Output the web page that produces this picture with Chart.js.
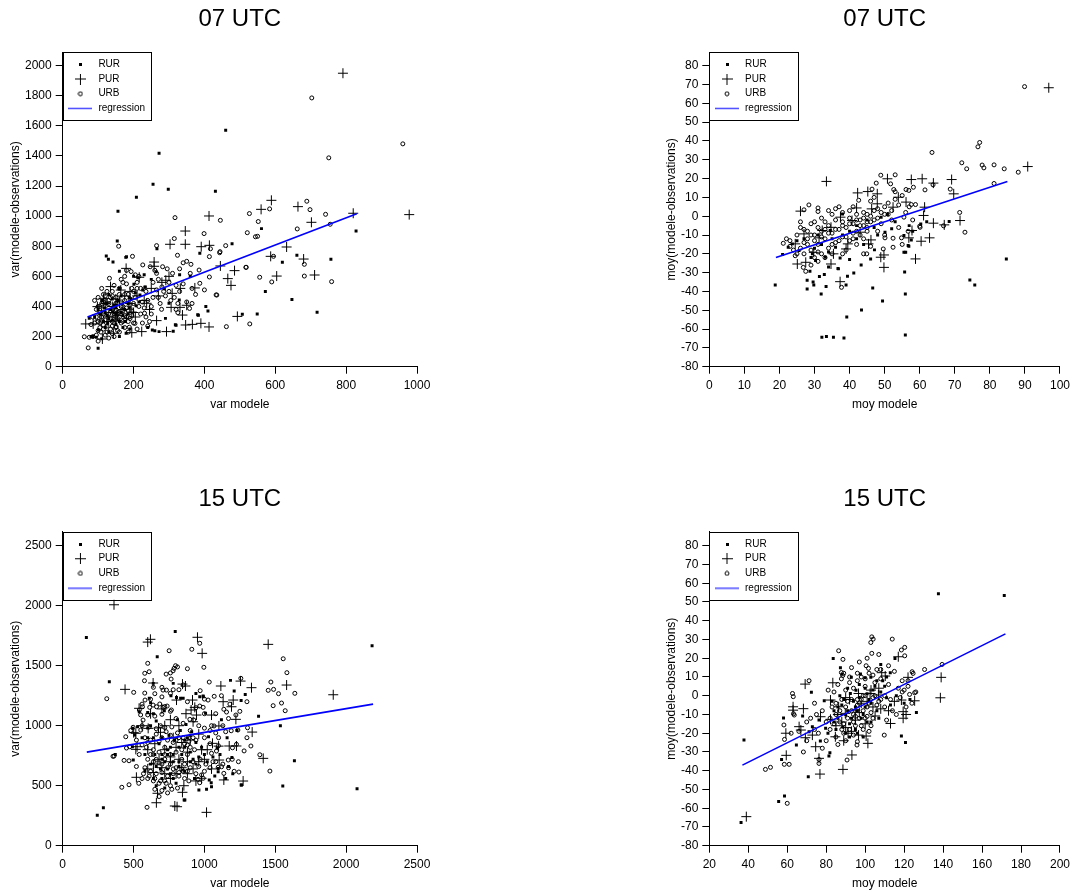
<!DOCTYPE html>
<html><head><meta charset="utf-8">
<script src="https://cdn.jsdelivr.net/npm/chart.js@4.4.1/dist/chart.umd.min.js"></script>
<style>
html,body{margin:0;padding:0;background:#fff;overflow:hidden;width:1075px;height:890px;}
canvas{position:absolute;}
</style></head><body>
<canvas id="c1" width="429" height="412" style="left:8px;top:0px"></canvas>
<canvas id="c2" width="411" height="412" style="left:664px;top:0px"></canvas>
<canvas id="c3" width="429" height="411" style="left:8px;top:480px"></canvas>
<canvas id="c4" width="411" height="411" style="left:664px;top:480px"></canvas>
<script>
// ---------- DATA ----------
const seriesNames = ['RUR','PUR','URB','regression'];
const titles = ['07 UTC','07 UTC','15 UTC','15 UTC'];
const xTitles = ['var modele','moy modele','var modele','moy modele'];
const yTitles = ['var(modele-observations)','moy(modele-observations)','var(modele-observations)','moy(modele-observations)'];

const xTicks1 = [0,200,400,600,800,1000];
const yTicks1 = [0,200,400,600,800,1000,1200,1400,1600,1800,2000];
const xTicks2 = [0,10,20,30,40,50,60,70,80,90,100];
const yTicks2 = [-80,-70,-60,-50,-40,-30,-20,-10,0,10,20,30,40,50,60,70,80];
const xTicks3 = [0,500,1000,1500,2000,2500];
const yTicks3 = [0,500,1000,1500,2000,2500];
const xTicks4 = [20,40,60,80,100,120,140,160,180,200];
const yTicks4 = [-80,-70,-60,-50,-40,-30,-20,-10,0,10,20,30,40,50,60,70,80];

// Panel 1 : var, 07 UTC
const rur1 = [[460,1570],[272,1418],[255,1211],[298,1178],[431,1165],[208,1125],[156,1032],[154,835],[478,817],[561,917],[828,901],[123,735],[129,713],[142,695],[178,726],[266,784],[387,753],[661,740],[757,713],[620,693],[572,500],[647,447],[718,361],[549,350],[507,348],[410,370],[404,400],[383,341],[290,321],[320,275],[312,235],[272,233],[253,244],[233,529],[180,730],[160,634],[232,527],[264,631],[188,459],[226,510],[207,405],[329,443],[318,279],[260,239],[381,345],[75,321],[127,288],[101,244],[85,200],[100,122],[160,200],[179,222],[118,390],[141,361],[151,410],[188,390],[193,450],[218,477],[212,591],[201,547],[287,518],[300,421],[80,200],[95,195],[110,185],[130,230],[140,310],[150,280],[160,300],[170,340],[115,300],[125,340],[135,380],[145,410],[155,440],[165,470],[175,380],[185,420],[205,490],[215,430],[105,350],[90,330],[125,420],[140,450],[160,520],[200,600],[230,610],[250,580],[330,610],[360,600],[110,440],[130,480],[150,350],[170,260],[190,250],[240,260],[120,260],[100,380],[120,360],[130,320],[150,390],[165,360],[175,300],[185,350]];
const pur1 = [[791,1949],[978,1010],[820,1019],[589,1105],[560,1045],[664,1063],[702,959],[413,1001],[346,901],[346,813],[303,813],[391,797],[414,806],[632,795],[587,733],[680,715],[604,602],[711,609],[485,638],[466,585],[475,540],[445,669],[493,334],[413,264],[390,288],[366,281],[347,277],[338,343],[293,233],[265,306],[223,233],[195,226],[180,321],[143,222],[112,184],[65,284],[86,284],[195,363],[154,339],[179,653],[216,594],[258,695],[258,667],[332,520],[309,487],[291,574],[373,523],[350,408],[331,394],[306,394],[237,421],[164,509],[135,532],[115,454],[98,399],[120,420],[140,400],[160,430],[175,470],[190,500],[210,470],[230,440],[250,520],[270,470],[280,560],[300,600],[125,300],[150,310],[205,330],[245,380],[145,360],[105,310],[110,350],[130,330],[150,450],[170,380],[190,420],[200,360]];
const urb1 = [[703,1785],[960,1480],[751,1387],[689,1099],[698,1043],[742,1012],[584,1048],[527,1017],[552,964],[445,972],[662,915],[521,890],[399,884],[317,990],[315,851],[265,804],[158,800],[197,733],[550,866],[755,946],[460,804],[444,764],[595,733],[682,680],[518,660],[556,594],[590,563],[682,602],[759,565],[462,266],[528,284],[435,476],[414,596],[387,554],[385,642],[75,195],[72,125],[85,200],[95,210],[80,280],[90,290],[85,330],[100,300],[105,260],[110,330],[95,380],[100,400],[110,420],[90,440],[100,460],[110,520],[115,480],[120,400],[125,370],[130,350],[120,310],[125,270],[135,250],[140,300],[145,340],[140,380],[150,420],[150,460],[145,540],[160,520],[165,580],[170,560],[132,587],[175,600],[180,550],[185,480],[175,440],[170,400],[160,360],[155,320],[165,290],[175,260],[185,230],[190,320],[195,370],[200,420],[205,460],[210,520],[193,632],[205,610],[215,600],[225,430],[230,390],[220,350],[235,330],[245,300],[240,270],[226,676],[247,664],[255,560],[265,620],[282,664],[260,640],[280,530],[285,500],[290,470],[275,420],[295,650],[300,560],[305,440],[315,460],[325,420],[320,380],[330,500],[324,740],[340,690],[350,700],[362,680],[360,620],[365,520],[400,510],[433,477],[330,650],[310,620],[130,420],[135,460],[140,500],[115,350],[105,360],[150,260],[160,230],[170,300],[180,330],[200,290],[210,250],[215,400],[250,400],[255,460],[265,510],[270,580],[235,500],[240,440],[185,370],[190,410],[195,520],[120,440],[125,500],[150,380],[165,430],[175,480],[180,640],[270,460],[300,500],[350,430],[365,420],[375,480],[414,731],[443,757],[417,783],[544,863],[517,660],[120,210],[130,190],[140,220],[145,200],[155,240],[100,170],[108,230],[225,290],[250,350],[231,355],[279,381],[325,359],[358,387],[115,277],[151,266],[188,262],[204,288],[61,199],[340,550],[320,540],[95,330],[105,400],[115,380],[135,320],[145,290],[155,360],[165,400],[175,340],[185,300],[195,340],[115,430],[130,440],[140,470],[120,470],[160,480],[105,290],[100,240],[115,250],[125,230],[140,270],[150,310],[160,330],[170,370],[180,390],[190,450],[200,500],[210,560],[220,520]];
const reg1 = [[70,330],[830,1015]];

// Panel 2 : moy, 07 UTC
const rur2 = [[18.8,-36.6],[20.9,-20.4],[22.5,-16.5],[28.7,-29.3],[27.9,-34],[29.6,-35],[29.8,-36.6],[27.9,-38.7],[31.4,-32],[32.8,-31],[31.9,-41.3],[33.3,-37.4],[32.1,-64.4],[33.4,-63.9],[35.4,-64.4],[38.4,-64.8],[39.2,-53.6],[39,-36.6],[36.8,-28],[37.3,-22.2],[41.2,-30.2],[43.3,-25.9],[43.4,-49.9],[46.6,-38.2],[49.4,-45.1],[47.1,-17.9],[46,-22.7],[55.5,-19.2],[55.7,-29.6],[55.9,-41.3],[55.9,-63.2],[56.9,-16],[60.3,-4.1],[68.4,-2.8],[74.3,-33.9],[75.7,-36.6],[84.7,-22.7],[34.5,-7.6],[38,1.2],[50.8,0.9],[50.1,-8.5],[49,-0.5],[52,-6.7],[36,-16.5],[29.4,-20],[30.3,-23.6],[33.1,-21.8],[25.6,-18.3],[23.7,-14.7],[27,-12],[31,-10],[35,-12],[40,-8],[42,-5],[44,-15],[48,-10],[53,-3],[57,-5],[62,-3],[25,-13],[32,-15],[38,-10],[45,-2],[58,-8],[40,-23],[34,-27],[29,-22],[36.7,-27.8],[39.4,-31.9],[55.5,-10.3],[56.7,-15.6],[57.6,-12.6],[56,-19.2],[30,-17],[34,-19],[42,-12],[47,-6]];
const pur2 = [[96.8,68.3],[90.8,26.4],[33.4,18.5],[50.8,19.9],[57.6,19.5],[60.7,19.9],[63.9,17.6],[69.1,19.5],[69.7,11.9],[26,2.7],[42.3,12.4],[45.2,13.1],[47.9,11.9],[56.1,7.5],[52.4,4.8],[42,4.4],[61.1,0.4],[63.9,-3.7],[71.5,-2.3],[62.8,-11.5],[60.4,-13.3],[56.9,-11.5],[57.8,-7.6],[58.8,-22.7],[49.8,-27.2],[49.8,-20.6],[48.9,-21.8],[46.1,-12.6],[45.4,-14.7],[39.5,-14.7],[39,-17.4],[34.7,-25.4],[35.4,-20],[37.3,-34.8],[34.7,-5.9],[25.1,-25.4],[27.5,-24.5],[24.5,-14.7],[27,-9.4],[29.8,-19.2],[31.3,-11.5],[46.3,3.9],[47.9,6.6],[61.4,4.8],[67,-4.6],[40.7,-2.3],[37.4,-0.5],[32.2,-7.6],[43,-8.5],[53.9,10.1]];
const urb2 = [[89.9,68.9],[77.1,39.2],[76.6,36.9],[63.5,33.9],[72,28.4],[73.4,25.2],[77.8,27.2],[78.3,25.7],[81.2,27.3],[84.1,25.2],[88.1,23.4],[81.2,17.4],[68.7,14.4],[71.4,2],[72.9,-8.5],[66.8,-5.1],[60,-5.3],[48.9,21.8],[53,22],[51.7,17.2],[52.6,14.2],[47.6,17.6],[46.4,14.4],[42.6,8.5],[58.2,15.4],[61.5,14],[63.8,16.7],[37.7,-37.8],[28.4,6],[31,4.4],[31,2.5],[27,3.4],[21.1,-14.4],[24.5,-21],[27.5,-29.3],[26.8,-27.2],[44.9,-20],[49.6,-17.4],[52.4,-16.5],[54.8,-11.5],[52.4,-11.7],[50.1,-11.5],[56.7,-8],[55.5,-0.5],[57.6,6.2],[58.8,6.2],[60.1,-5.9],[56.9,13.7],[56.1,14.2],[22,-12],[23,-16],[24,-18],[25,-10],[26,-6],[26,-3],[27,-14],[28,-12],[28,-8],[29,-4],[29,-18],[30,-22],[30,-10],[30,-3],[31,-6],[31,-15],[32,-20],[32,-8],[33,-12],[33,-3],[34,-17],[34,-5],[35,-9],[35,1],[36,-14],[36,-2],[36,4],[37,-7],[37,5],[38,-11],[38,-3],[38,2],[39,-6],[39,-18],[40,-13],[40,-1],[40,3],[41,-4],[41,-9],[42,-2],[42,1],[42,-15],[43,-5],[43,-10],[44,-1],[44,2],[45,-6],[45,-3],[46,0],[46,8],[47,10],[47,-2],[48,4],[48,-8],[49,2],[49,-4],[50,5],[50,-10],[51,1],[51,7],[52,3],[52,-2],[53,9],[53,13],[54,6],[54,-6],[55,11],[55,-15],[56,2],[57,5],[58,-2],[27,-20],[33,-22],[35,-20],[25,-20],[32,-1],[34,3],[44,-12],[46,-16],[44,-20],[29,-26],[31,-24],[38,-20],[45,-8],[41,5],[23,-13],[26,-17],[28,-15],[30,-13],[32,-11],[34,-9],[36,-7],[38,-5],[40,-4],[42,-8],[44,-5],[46,-3],[48,-1],[50,1],[33,-7],[35,-15],[37,-13],[39,-11],[41,-12],[43,-2],[45,1],[47,3],[29,-10],[31,-19],[27,-7]];
const reg2 = [[19,-22],[85,18.5]];

// Panel 3 : var, 15 UTC
const rur3 = [[167,1736],[244,253],[287,317],[329,1367],[371,761],[794,1786],[667,1575],[2183,1667],[2077,475],[1635,708],[1553,497],[1536,1000],[1382,1078],[1288,1261],[1259,1211],[1184,1378],[1259,506],[1170,661],[1194,736],[1097,644],[1034,547],[1029,908],[1090,814],[1048,525],[961,464],[862,381],[1008,1103],[992,1242],[832,1228],[498,714],[494,978],[540,1117],[620,1192],[639,1353],[611,1228],[717,1125],[764,1250],[940,1269],[780,1353],[803,1236],[857,381],[1262,506],[1097,617],[1073,581],[1050,492],[1015,470],[967,1242],[991,1248],[850,1228],[492,825],[508,922],[528,992],[600,980],[640,900],[680,850],[700,760],[720,700],[740,640],[760,600],[780,560],[800,520],[820,700],[840,760],[860,820],[880,900],[900,780],[920,720],[940,680],[960,740],[980,820],[1000,760],[1020,700],[1060,740],[1110,760],[1150,560],[1200,600],[640,560],[660,500],[700,560],[720,480],[760,820],[790,880],[830,960],[870,1010],[910,950],[650,760],[690,640],[750,920],[810,1050],[600,1110],[560,900],[580,620],[930,560],[1120,1050],[1210,1290],[1160,900],[1230,960],[620,680],[660,660],[700,720],[740,760],[780,700],[820,660],[860,620],[900,700],[700,900],[740,800],[780,760],[820,820],[860,880],[900,920],[940,860],[620,1000],[660,1040],[580,760],[600,900],[640,1100]];
const pur3 = [[362,2008],[600,1697],[619,1720],[951,1737],[984,1603],[1450,1678],[1580,1339],[1909,1258],[1415,728],[1337,947],[1332,1317],[1255,1372],[1116,1331],[1132,1200],[1203,1214],[1191,1158],[1222,1053],[1050,1089],[1102,998],[1057,853],[1175,831],[1226,831],[1104,714],[1137,548],[1273,539],[1015,278],[845,445],[855,500],[791,331],[807,325],[661,358],[669,437],[440,1303],[539,1145],[638,1356],[845,1347],[866,1331],[803,1214],[916,1214],[932,1153],[906,1131],[944,1089],[920,1033],[690,945],[676,981],[603,978],[516,937],[501,942],[516,803],[525,825],[980,562],[520,570],[600,640],[640,610],[700,650],[760,700],[820,720],[880,600],[940,540],[980,800],[1000,720],[1050,640],[600,800],[650,850],[720,1000],[760,1050],[820,1000],[870,1100],[560,1000],[620,1100],[700,1140],[780,900],[900,880],[960,930],[1100,830],[640,680],[680,720],[720,800],[760,740],[800,820],[840,860],[880,780],[720,600],[760,560],[800,600],[840,650],[880,700],[920,640],[960,700],[1020,800]];
const urb3 = [[967,1687],[911,1637],[751,1625],[1556,1558],[1582,1442],[1638,1270],[1469,1364],[1450,1295],[1488,1303],[1523,1267],[1485,1167],[1544,1189],[1570,1125],[1462,622],[1391,758],[1328,831],[1304,983],[1257,1395],[1034,1364],[970,1292],[1000,1222],[1026,1214],[1069,1245],[1137,1137],[1156,1114],[1222,1089],[1068,998],[1189,958],[1236,964],[1085,789],[1099,833],[1198,816],[1226,845],[1196,720],[1168,714],[1121,658],[1097,653],[1137,603],[1243,614],[955,553],[967,525],[991,562],[595,320],[417,487],[468,508],[537,520],[355,745],[311,1225],[501,1278],[579,1437],[577,1375],[600,1520],[579,1272],[581,1214],[650,1267],[708,1297],[732,1297],[765,1389],[779,1458],[786,1478],[796,1500],[880,1475],[996,1487],[897,1053],[925,1047],[967,1164],[991,1153],[445,908],[473,825],[450,814],[362,747],[468,708],[433,711],[497,987],[551,964],[567,1047],[541,1131],[563,1158],[614,1153],[638,1172],[662,1158],[685,1181],[708,1153],[737,1164],[767,1131],[550,1090],[600,1090],[650,1080],[700,1095],[560,1000],[610,990],[660,975],[720,985],[580,900],[620,880],[660,930],[700,900],[740,880],[780,860],[820,900],[860,850],[900,820],[940,880],[590,820],[640,800],[680,780],[720,820],[760,760],[800,780],[840,720],[880,760],[920,700],[960,660],[600,720],[640,700],[680,690],[720,720],[760,680],[800,650],[840,640],[880,620],[580,650],[620,620],[660,600],[700,610],[740,580],[780,600],[820,580],[860,560],[600,560],[640,540],[680,520],[720,540],[760,500],[700,460],[740,440],[680,410],[650,470],[560,560],[520,660],[540,760],[520,880],[480,960],[560,1180],[620,1220],[700,1240],[760,1270],[820,1300],[880,1200],[940,1150],[1000,1100],[1050,1000],[1000,900],[1040,850],[1100,900],[1150,950],[1080,1100],[1120,1250],[1180,1180],[1250,1120],[1300,1200],[1040,650],[1000,620],[1060,700],[900,960],[850,1020],[800,1060],[760,1120],[720,1160],[610,1450],[640,1320],[700,1320],[730,1430],[760,1440],[810,1490],[850,1340],[780,1300],[690,1000],[730,950],[770,990],[810,940],[850,900],[890,870],[930,800],[970,720],[1010,680],[1050,770],[1080,700],[1130,680],[1170,650],[1210,620],[1240,700],[1280,790],[1300,900],[620,760],[660,720],[700,680],[740,650],[780,640],[820,610],[860,680],[900,650],[940,600],[980,590],[570,600],[610,580],[650,560],[690,540],[730,520],[770,470],[810,480],[850,620],[890,540],[560,840],[600,860],[640,760],[680,870],[720,760],[760,920],[800,880],[840,800],[880,840],[920,900],[960,1000],[1000,980],[1040,960],[1080,940],[1130,1000],[1170,1060]];
const reg3 = [[170,780],[2190,1180]];

// Panel 4 : moy, 15 UTC
const rur4 = [[36.3,-67.6],[37.8,-23.6],[55.6,-56.4],[58.6,-53.5],[57.1,-34],[58.1,-11.9],[137.6,54.4],[171.4,53.5],[70.8,-43.2],[67.9,-10.8],[64.7,-26.3],[72.4,1.8],[81.9,-30.4],[81.4,-32.2],[77,-24.2],[83.6,19.9],[87.3,14.9],[108,16.7],[112.9,12.3],[115.3,19.9],[118.6,-21.5],[120.7,-24.9],[126.3,-8.9],[111,-1.1],[88.1,11.4],[97.6,11.6],[102.9,9.8],[79,-2.7],[92.4,1.2],[71.2,-19.2],[72.9,-16.5],[76.3,-13],[79.7,-17.4],[92.9,9.8],[100,9.6],[95.3,2.9],[80.9,-20],[88.6,-16.7],[84,-8],[86,-12],[88,-5],[90,-10],[92,-15],[94,-3],[96,-8],[98,-12],[100,-6],[102,-2],[104,3],[106,-8],[108,2],[85,-18],[90,-20],[95,-18],[99,-22],[103,-14],[110,5],[113,-5],[116,0],[120,-4],[123,-2],[91,4],[87,0],[83,-3],[97,6],[101,1],[106,8],[86,-6],[89,-2],[91,-8],[93,-12],[95,-6],[97,-1],[99,-10],[101,-14],[103,-4],[105,5],[107,-12],[92,-22],[96,-20],[109,8],[111,10],[84,-14],[100,4]];
const pur4 = [[39,-64.5],[59.5,-31.8],[63,-5.9],[63,-7.7],[68.3,-6.9],[69.2,6.2],[67,-18.3],[69.3,-22.4],[72.9,-21],[74.6,-27.2],[76.3,-33.4],[76.8,-41.8],[88.6,-39.3],[93.2,-31.6],[101.4,-25.4],[83.4,6.9],[117,20.8],[108.5,12.3],[110.3,10.5],[122,9.8],[139,9.8],[138.6,-1.1],[118.6,-2.3],[125.4,-2.7],[119.5,-8.5],[119.5,-12],[113,-14.8],[106.8,0.4],[105.1,-10.8],[100.5,-21.5],[96.6,-21],[91.2,-20],[84.7,-21.9],[82.2,-2.3],[86.4,-5.9],[89.8,-9.4],[94.9,-7.6],[96.6,1.2],[102.5,1.2],[82.2,-12.6],[77.1,-11.2],[66.1,-16.5],[59.3,-20],[88,-14],[92,-2],[95,-13],[98,-4],[104,-6],[90,-17],[86,-10],[100,-15],[107,4],[112,-8],[85,-16],[89,-24],[93,-19],[97,-9],[101,-3],[103,3],[108,-7],[115,-3],[121,-10],[90,-1]];
const urb4 = [[60,-57.4],[48.8,-39.3],[51.4,-38.2],[58.5,-36.6],[61,-36.6],[58.6,-23.3],[58.3,-15.6],[62.7,1.2],[63.1,-0.5],[63.2,-9.6],[63.6,-10.3],[68.3,-30],[71.2,8],[86.4,24],[88.6,19.4],[87.8,12.4],[88.5,10.8],[87.8,9],[103.4,31.4],[104.1,30.2],[102.9,28.4],[103.4,22.6],[100.5,16],[101.7,14.6],[113.9,30.2],[118.6,24.4],[120.3,25.8],[120.3,21.3],[130.5,14],[139.5,16.7],[124.1,12.8],[124.6,11.9],[125.4,1.6],[122.8,0.7],[109.8,-21],[90.7,-34.3],[95.8,-26.3],[96,-24.5],[76.3,-34],[76.3,-36.1],[66,-19],[70,-24],[72,-12],[74,-4],[75,-10],[76,-20],[78,-8],[80,-14],[80,-24],[82,-18],[83,-6],[84,2],[85,-10],[85,-22],[86,6],[87,-14],[88,-2],[89,-20],[90,-6],[90,3],[91,-12],[92,7],[92,-18],[93,-2],[94,-10],[94,4],[95,-16],[96,-5],[96,8],[97,-12],[98,-2],[98,10],[99,-8],[99,-18],[100,0],[100,5],[101,-11],[102,-4],[102,12],[103,-16],[104,-1],[105,7],[106,-5],[106,14],[108,-2],[108,9],[110,0],[111,-13],[112,6],[114,-8],[115,13],[117,4],[119,2],[121,-6],[122,5],[124,-4],[126,2],[119,8],[116,-10],[78,-28],[74,-18],[70,-14],[62,-20],[81,3],[89,12],[93,15],[97,18],[101,20],[107,22],[85,-4],[87,-8],[89,-15],[91,-3],[93,-8],[95,-11],[97,-4],[99,0],[101,-6],[103,-9],[105,0],[107,-3],[90,-24],[94,-21],[98,-16],[102,-19],[104,-12],[92,10],[96,12],[100,9],[104,11],[108,14],[112,16],[86,-26],[82,-12],[84,-15],[88,-18],[110,-6],[113,-2],[118,-1],[120,3],[122,8],[94,-14],[96,-2],[100,-12]];
const reg4 = [[37,-37],[172,33]];

// ---------- RENDER ----------
Chart.defaults.font.family = '"Liberation Sans", Arial, Helvetica, sans-serif';
Chart.defaults.color = '#000';

function icon(w, h, draw) {
  const c = document.createElement('canvas'); c.width = w; c.height = h;
  const g = c.getContext('2d'); draw(g); return c;
}
const iconRUR = icon(3, 3, g => { g.fillStyle = '#000'; g.fillRect(0, 0, 3, 3); });
const iconPUR = icon(11, 11, g => { g.strokeStyle = '#000'; g.lineWidth = 1; g.beginPath(); g.moveTo(0, 5.5); g.lineTo(11, 5.5); g.moveTo(5.5, 0); g.lineTo(5.5, 11); g.stroke(); });
const iconURB = icon(6, 6, g => { g.strokeStyle = '#000'; g.lineWidth = 1; g.beginPath(); g.arc(3, 3, 2, 0, Math.PI * 2); g.stroke(); });
const iconREG = icon(24, 3, g => { g.strokeStyle = '#4a4aff'; g.lineWidth = 1.5; g.beginPath(); g.moveTo(0, 1.5); g.lineTo(24, 1.5); g.stroke(); });
const icons = [iconRUR, iconPUR, iconURB, iconREG];

const legendBox = {
  id: 'legendBox',
  afterLayout(chart) {
    const lg = chart.legend; if (!lg) return;
    const dy = chart.chartArea.top - lg.top;
    if (dy) { lg.top += dy; lg.bottom += dy; }
  },
  afterDraw(chart) {
    const lg = chart.legend; if (!lg || !lg.legendHitBoxes || !lg.legendHitBoxes.length) return;
    const hb = lg.legendHitBoxes, ca = chart.chartArea, ctx = chart.ctx;
    let r = 0; hb.forEach(h => { r = Math.max(r, h.left + h.width); });
    const last = hb[hb.length - 1];
    const x0 = Math.round(ca.left) + 0.5, y0 = Math.round(ca.top) + 0.5;
    const x1 = Math.round(r + 6) + 0.5, y1 = Math.round(last.top + last.height + 6.7) + 0.5;
    ctx.save(); ctx.strokeStyle = '#000'; ctx.lineWidth = 1;
    ctx.strokeRect(x0, y0, x1 - x0, y1 - y0); ctx.restore();
  }
};

const toXY = arr => arr.map(p => ({x: p[0], y: p[1]}));

function makeChart(id, p) {
  const ctx = document.getElementById(id);
  new Chart(ctx, {
    type: 'scatter',
    data: {
      datasets: [
        {label: seriesNames[0], data: toXY(p.rur), pointStyle: 'rect', pointRadius: 2.1, pointBackgroundColor: '#000', pointBorderWidth: 0, borderColor: '#000', order: 3},
        {label: seriesNames[1], data: toXY(p.pur), pointStyle: 'cross', pointRadius: 5, pointBorderColor: '#000', pointBorderWidth: 1, borderColor: '#000', order: 2},
        {label: seriesNames[2], data: toXY(p.urb), pointStyle: 'circle', pointRadius: 2, pointBackgroundColor: 'rgba(0,0,0,0)', pointBorderColor: '#000', pointBorderWidth: 1, borderColor: '#000', order: 1},
        {label: seriesNames[3], data: toXY(p.reg), showLine: true, borderColor: '#0000ff', borderWidth: 1.6, pointRadius: 0, fill: false, order: 0}
      ]
    },
    options: {
      responsive: false, animation: false, events: [],
      layout: {padding: {left: 0, top: 0, bottom: 0, right: p.padR}},
      plugins: {
        tooltip: {enabled: false},
        title: {display: true, text: p.title, fullSize: false, color: '#000', font: {size: 24, weight: 'normal'}, padding: {top: p.tTop, bottom: p.tBot}},
        legend: {
          position: 'chartArea', align: 'start',
          title: {display: true, text: '', font: {size: 2}, padding: {top: 0.2, bottom: 0}},
          labels: {
            usePointStyle: true, pointStyleWidth: 26, boxHeight: 10, padding: 4.7,
            font: {size: 10}, color: '#000',
            generateLabels: () => seriesNames.map((n, i) => ({text: n, pointStyle: icons[i], fillStyle: '#000', strokeStyle: '#000', lineWidth: 0, hidden: false, datasetIndex: i, fontColor: '#000'}))
          }
        }
      },
      scales: {
        x: {
          type: 'linear', position: 'bottom', min: p.xMin, max: p.xMax,
          afterFit: s => { s.height = p.xH; },
          afterBuildTicks: ax => { ax.ticks = p.xTicks.map(v => ({value: v})); },
          border: {display: true, color: '#000', width: 1},
          grid: {display: true, drawOnChartArea: false, drawTicks: true, tickLength: 7, color: '#000'},
          ticks: {autoSkip: false, maxRotation: 0, padding: 5, font: {size: 12}, color: '#000', callback: v => String(v)},
          title: {display: true, text: p.xTitle, font: {size: 12}, color: '#000', padding: 0}
        },
        y: {
          type: 'linear', position: 'left', min: p.yMin, max: p.yMax,
          afterFit: s => { s.width = p.yW; },
          afterBuildTicks: ax => { ax.ticks = p.yTicks.map(v => ({value: v})); },
          border: {display: true, color: '#000', width: 1},
          grid: {display: true, drawOnChartArea: false, drawTicks: true, tickLength: 7, color: '#000'},
          ticks: {autoSkip: false, padding: 4, font: {size: 12}, color: '#000', callback: v => String(v)},
          title: {display: true, text: p.yTitle, font: {size: 12}, color: '#000', padding: 0}
        }
      }
    },
    plugins: [legendBox]
  });
}

makeChart('c1', {rur: rur1, pur: pur1, urb: urb1, reg: reg1, title: titles[0], xTitle: xTitles[0], yTitle: yTitles[0],
  xMin: 0, xMax: 1000, yMin: 0, yMax: 2090, xTicks: xTicks1, yTicks: yTicks1, yW: 54.7, xH: 45.3, padR: 20, tTop: 5.1, tBot: 18.1});
makeChart('c2', {rur: rur2, pur: pur2, urb: urb2, reg: reg2, title: titles[1], xTitle: xTitles[1], yTitle: yTitles[1],
  xMin: 0, xMax: 100, yMin: -80, yMax: 87.3, xTicks: xTicks2, yTicks: yTicks2, yW: 45.3, xH: 45.3, padR: 11.7, tTop: 5.1, tBot: 18.1});
makeChart('c3', {rur: rur3, pur: pur3, urb: urb3, reg: reg3, title: titles[2], xTitle: xTitles[2], yTitle: yTitles[2],
  xMin: 0, xMax: 2500, yMin: 0, yMax: 2617, xTicks: xTicks3, yTicks: yTicks3, yW: 54.7, xH: 45.3, padR: 20, tTop: 4.6, tBot: 18.3});
makeChart('c4', {rur: rur4, pur: pur4, urb: urb4, reg: reg4, title: titles[3], xTitle: xTitles[3], yTitle: yTitles[3],
  xMin: 20, xMax: 200, yMin: -80, yMax: 87.5, xTicks: xTicks4, yTicks: yTicks4, yW: 45.3, xH: 45.3, padR: 11.7, tTop: 4.6, tBot: 18.3});
</script>
</body></html>
